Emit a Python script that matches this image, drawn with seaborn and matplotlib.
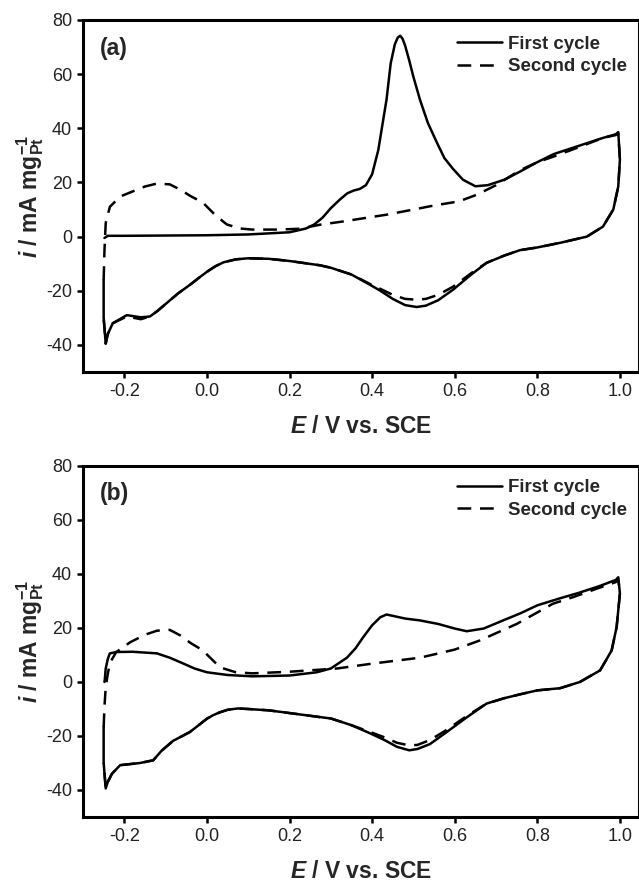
import matplotlib
matplotlib.use('Agg')
import matplotlib.pyplot as plt
import pandas as pd
import seaborn as sns

# ---- data (E in V vs. SCE, i in mA mg_Pt^-1) ----
# panel (a), first cycle: anodic sweep then cathodic sweep
E_a1 = [-0.248, -0.24, -0.2, -0.1, 0.0, 0.1, 0.2, 0.24, 0.26, 0.28, 0.30, 0.322, 0.34, 0.355,
        0.37, 0.385, 0.40, 0.415, 0.435, 0.445, 0.455, 0.462, 0.468, 0.474, 0.48, 0.49, 0.50,
        0.516, 0.535, 0.556, 0.575, 0.596, 0.62, 0.65, 0.68, 0.72, 0.758, 0.80, 0.84, 0.88,
        0.92, 0.96, 0.99, 0.996,
        1.0, 0.996, 0.984, 0.959, 0.92, 0.855, 0.80, 0.758, 0.72, 0.677, 0.64, 0.596, 0.56,
        0.53, 0.508, 0.48, 0.45, 0.42, 0.395, 0.35, 0.30, 0.274, 0.20, 0.15, 0.10, 0.07, 0.04,
        0.02, 0.0, -0.02, -0.041, -0.07, -0.097, -0.12, -0.138, -0.16, -0.194, -0.228, -0.24,
        -0.245, -0.25, -0.25]
i_a1 = [-0.5, 0.3, 0.3, 0.4, 0.5, 0.8, 1.6, 3.0, 4.5, 7.0, 10.5, 13.7, 16.0, 17.0,
        17.6, 19.0, 23.0, 32.0, 50.7, 64.0, 71.0, 73.5, 74.2, 73.0, 70.5, 65.0, 59.0,
        50.5, 42.0, 35.0, 29.0, 25.0, 21.0, 18.6, 19.0, 21.0, 24.0, 27.5, 30.5, 32.5,
        34.5, 36.5, 37.8, 38.6,
        28.5, 18.5, 10.0, 3.7, 0.0, -2.3, -4.0, -5.0, -7.0, -9.7, -14.0, -19.6, -23.5,
        -25.5, -26.0, -25.3, -23.0, -20.0, -17.8, -14.0, -11.5, -10.6, -9.0, -8.2, -8.0, -8.4, -9.5,
        -11.0, -13.0, -15.3, -17.8, -21.0, -24.5, -27.5, -29.5, -29.8, -29.0, -32.0, -36.0,
        -39.5, -30.0, -16.0]

# panel (a), second cycle
E_a2 = [-0.25, -0.248, -0.245, -0.235, -0.21, -0.186, -0.15, -0.121, -0.09, -0.065, -0.04,
        -0.01, 0.02, 0.048, 0.08, 0.11, 0.17, 0.225, 0.274, 0.33, 0.38, 0.435, 0.50, 0.55, 0.61,
        0.654, 0.70, 0.758, 0.80, 0.84, 0.90, 0.96, 0.99, 0.996,
        1.0, 0.996, 0.984, 0.959, 0.92, 0.855, 0.80, 0.758, 0.72, 0.677, 0.64, 0.596, 0.56,
        0.53, 0.508, 0.48, 0.45, 0.42, 0.395, 0.35, 0.30, 0.274, 0.20, 0.15, 0.10, 0.07, 0.04,
        0.02, 0.0, -0.02, -0.041, -0.07, -0.097, -0.12, -0.138, -0.16, -0.194, -0.228, -0.24,
        -0.245, -0.25]
i_a2 = [-16.0, -5.0, 5.0, 11.0, 14.8, 16.3, 18.5, 19.6, 19.3, 17.4, 15.0,
        12.6, 8.0, 4.5, 3.0, 2.6, 2.6, 2.9, 4.4, 5.6, 6.8, 8.1, 10.0, 11.5, 13.0,
        15.5, 19.0, 24.5, 27.5, 29.6, 33.0, 36.5, 37.5, 38.0,
        28.5, 18.5, 10.0, 3.7, 0.0, -2.3, -4.0, -5.0, -7.0, -9.7, -13.5, -18.5, -21.5,
        -23.0, -23.3, -23.0, -21.5, -19.3, -17.5, -14.0, -11.5, -10.6, -9.0, -8.2, -8.0, -8.4, -9.5,
        -11.0, -13.0, -15.3, -17.8, -21.0, -24.5, -27.5, -29.5, -30.5, -29.5, -32.0, -36.0,
        -39.5, -30.0]

# panel (b), first cycle
E_b1 = [-0.248, -0.247, -0.245, -0.24, -0.235, -0.22, -0.18, -0.121, -0.09, -0.058, -0.03, 0.0,
        0.05, 0.11, 0.2, 0.266, 0.30, 0.339, 0.36, 0.378, 0.40, 0.42, 0.435, 0.45, 0.48, 0.516,
        0.56, 0.60, 0.629, 0.67, 0.717, 0.76, 0.80, 0.855, 0.90, 0.95, 0.99, 0.996,
        1.0, 0.992, 0.98, 0.952, 0.903, 0.855, 0.80, 0.76, 0.72, 0.677, 0.63, 0.58, 0.54, 0.51,
        0.49, 0.46, 0.43, 0.395, 0.35, 0.30, 0.274, 0.20, 0.15, 0.10, 0.075, 0.05, 0.03, 0.015,
        0.0, -0.02, -0.041, -0.062, -0.082, -0.11, -0.13, -0.162, -0.21, -0.23, -0.24, -0.245,
        -0.25, -0.25]
i_b1 = [0.0, 1.3, 5.0, 8.5, 10.6, 11.1, 11.2, 10.6, 9.0, 6.9, 5.0, 3.6,
        2.6, 2.1, 2.4, 3.6, 5.0, 9.0, 12.5, 16.5, 21.0, 24.0, 25.0, 24.5, 23.5, 22.8,
        21.5, 19.8, 18.8, 19.8, 22.8, 25.5, 28.4, 31.0, 33.0, 35.5, 37.8, 38.8,
        32.8, 20.3, 11.7, 4.3, 0.0, -2.3, -3.1, -4.5, -6.0, -8.0, -13.0, -18.6, -23.0, -24.8,
        -25.3, -24.0, -21.5, -19.0, -16.0, -13.5, -13.0, -11.5, -10.5, -10.0, -9.8, -10.3, -11.3, -12.3,
        -13.6, -16.0, -18.5, -20.2, -21.8, -25.5, -29.0, -30.0, -30.8, -34.0, -37.0, -39.4,
        -30.0, -16.7]

# panel (b), second cycle
E_b2 = [-0.25, -0.248, -0.245, -0.24, -0.235, -0.22, -0.186, -0.15, -0.121, -0.09, -0.065,
        -0.04, -0.01, 0.032, 0.07, 0.11, 0.2, 0.315, 0.40, 0.516, 0.60, 0.661, 0.75, 0.838,
        0.886, 0.952, 0.99, 0.996,
        1.0, 0.992, 0.98, 0.952, 0.903, 0.855, 0.80, 0.76, 0.72, 0.677, 0.63, 0.58, 0.54, 0.51,
        0.49, 0.46, 0.43, 0.395, 0.35, 0.30, 0.274, 0.20, 0.15, 0.10, 0.075, 0.05, 0.03, 0.015,
        0.0, -0.02, -0.041, -0.062, -0.082, -0.11, -0.13, -0.162, -0.21, -0.23, -0.24, -0.245,
        -0.25]
i_b2 = [-16.7, -9.0, -2.0, 3.0, 7.0, 11.0, 14.7, 17.5, 19.0, 19.3, 17.3,
        14.5, 11.7, 5.4, 3.6, 3.2, 3.8, 5.0, 6.8, 9.0, 12.0, 15.4, 21.5, 29.0,
        31.4, 35.0, 37.0, 38.0,
        32.8, 20.3, 11.7, 4.3, 0.0, -2.3, -3.1, -4.5, -6.0, -8.0, -12.5, -17.8, -21.5, -23.3,
        -23.5, -22.5, -20.5, -18.5, -16.0, -13.5, -13.0, -11.5, -10.5, -10.0, -9.8, -10.3, -11.3, -12.3,
        -13.6, -16.0, -18.5, -20.2, -21.8, -25.5, -29.0, -30.0, -30.8, -34.0, -37.0, -39.4,
        -30.0]

panel_tags = ['(a)', '(b)']
cycle_names = ['First cycle', 'Second cycle']
x_ticks = [-0.2, 0.0, 0.2, 0.4, 0.6, 0.8, 1.0]
y_ticks = [-40, -20, 0, 20, 40, 60, 80]

sns.set_style('ticks')
plt.rcParams['font.family'] = ['Liberation Sans', 'DejaVu Sans']
plt.rcParams['mathtext.fontset'] = 'custom'
plt.rcParams['mathtext.rm'] = 'Liberation Sans:bold'
plt.rcParams['mathtext.it'] = 'Liberation Sans:italic:bold'
plt.rcParams['mathtext.bf'] = 'Liberation Sans:bold'


def make_df(e1, i1, e2, i2):
    first = pd.DataFrame({'E': e1, 'i': i1, 'cycle': cycle_names[0]})
    second = pd.DataFrame({'E': e2, 'i': i2, 'cycle': cycle_names[1]})
    return pd.concat([first, second], ignore_index=True)


frames = [make_df(E_a1, i_a1, E_a2, i_a2), make_df(E_b1, i_b1, E_b2, i_b2)]

fig = plt.figure(figsize=(6.39, 8.83), dpi=100)
W, H = 639, 883
boxes = [(83, 20, 638.5, 372), (83, 466, 638.5, 817)]
legend_top = [0.955, 0.963]

for k, (df, box) in enumerate(zip(frames, boxes)):
    x0, y0, x1, y1 = box
    ax = fig.add_axes([x0 / W, 1 - y1 / H, (x1 - x0) / W, (y1 - y0) / H])
    sns.lineplot(data=df, x='E', y='i', style='cycle', sort=False, estimator=None,
                 color='black', linewidth=1.8,
                 dashes={cycle_names[0]: '', cycle_names[1]: (5.5, 3.5)}, ax=ax)

    ax.set_xlim(-0.3, 1.045)
    ax.set_ylim(-50, 80)
    ax.set_xticks(x_ticks)
    ax.set_xticklabels([f'{v:.1f}' for v in x_ticks])
    ax.set_yticks(y_ticks)
    ax.set_yticklabels([str(v) for v in y_ticks])
    for s in ax.spines.values():
        s.set_linewidth(2.2)
        s.set_color('black')
    ax.tick_params(direction='out', length=4, width=1.8, pad=4, labelsize=13,
                   labelcolor='#222222', color='black')

    ax.set_xlabel(r'$\mathit{E}$ / V vs. SCE', fontsize=16.5, fontweight='bold', labelpad=11)
    ax.set_ylabel(r'$\mathit{i}$ / mA mg$_{\mathrm{Pt}}^{\mathrm{-1}}$', fontsize=16.5,
                  fontweight='bold', labelpad=0)

    ax.text(0.056, 0.92 if k == 0 else 0.923, panel_tags[k], transform=ax.transAxes,
            ha='center', va='center', fontsize=16.5, fontweight='bold')

    handles, labels = ax.get_legend_handles_labels()
    ax.legend(handles, labels, loc='upper left', bbox_to_anchor=(0.673, legend_top[k]),
              frameon=False, prop={'weight': 'bold', 'size': 13.4}, handlelength=2.4,
              handletextpad=0.35, labelspacing=0.3, borderpad=0, borderaxespad=0)

fig.savefig('out.png', dpi=100)
